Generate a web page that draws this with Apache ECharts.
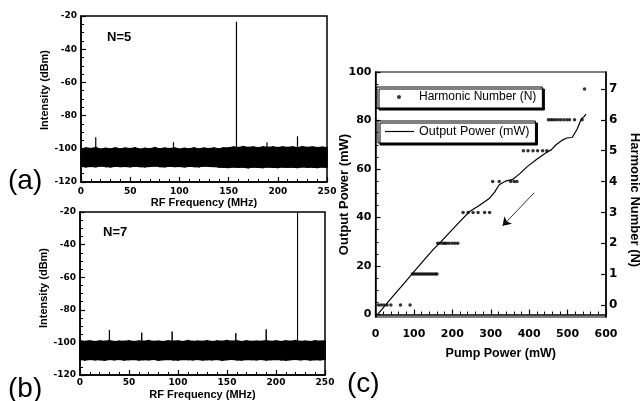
<!DOCTYPE html>
<html><head><meta charset="utf-8">
<script src="https://cdn.jsdelivr.net/npm/echarts@6/dist/echarts.min.js"></script>
<style>html,body{margin:0;padding:0;background:#fff}#c{width:642px;height:401px}</style>
</head><body><div id="c"></div>
<script>
// ---- Data ----
const freqGrid = [0,5,10,15,20,25,30,35,40,45,50,55,60,65,70,75,80,85,90,95,100,105,110,115,120,125,130,135,140,145,150,155,160,165,170,175,180,185,190,195,200,205,210,215,220,225,230,235,240,245,250];
const bandTopA = [-100.2,-99.6,-100.0,-99.4,-100.3,-99.8,-100.1,-99.5,-100.2,-99.7,
  -100.0,-99.5,-100.3,-99.8,-100.1,-99.4,-100.2,-99.7,-100.0,-99.6,
  -100.3,-99.8,-100.1,-99.5,-100.2,-99.7,-100.0,-99.6,-100.2,-99.5,
  -99.6,-99.0,-99.4,-98.8,-99.3,-99.0,-99.5,-98.9,-99.2,-99.0,
  -99.4,-98.9,-99.3,-99.0,-99.5,-98.8,-99.3,-99.0,-99.4,-99.1,-99.3];
const bandBottomA = [-110.4,-110.8,-110.5,-110.7,-110.3,-110.6,-110.8,-110.4,-110.6,-110.5,
  -110.7,-110.4,-110.6,-110.8,-110.5,-110.3,-110.6,-110.7,-110.4,-110.6,
  -110.5,-110.8,-110.4,-110.6,-110.7,-110.3,-110.5,-110.6,-110.9,-111.0,
  -111.2,-110.9,-111.1,-111.0,-111.3,-110.9,-111.1,-111.2,-110.9,-111.0,
  -111.2,-110.9,-111.1,-111.0,-111.2,-110.8,-111.1,-111.0,-111.2,-110.9,-111.0];
const bandTopB = [-99.0,-99.5,-99.1,-99.6,-99.2,-99.4,-99.0,-99.6,-99.3,-99.5,
  -99.1,-99.6,-99.2,-99.4,-99.0,-99.5,-99.3,-99.6,-99.1,-99.4,
  -99.2,-99.6,-99.0,-99.5,-99.3,-99.4,-99.1,-99.6,-99.2,-99.5,
  -99.0,-99.4,-99.2,-99.6,-99.1,-99.5,-99.3,-99.4,-99.0,-99.5,
  -99.2,-99.6,-99.1,-99.4,-99.0,-99.5,-99.3,-99.6,-99.1,-99.4,-99.2];
const bandBottomB = [-110.3,-110.7,-110.4,-110.6,-110.5,-110.8,-110.4,-110.6,-110.3,-110.7,
  -110.5,-110.4,-110.7,-110.5,-110.6,-110.3,-110.8,-110.5,-110.4,-110.6,
  -110.7,-110.4,-110.5,-110.6,-110.3,-110.7,-110.5,-110.6,-110.4,-110.8,
  -110.5,-110.3,-110.6,-110.7,-110.4,-110.5,-110.6,-110.3,-110.7,-110.5,
  -110.4,-110.6,-110.8,-110.5,-110.3,-110.6,-110.4,-110.7,-110.5,-110.6,-110.4];
const spikeFreqA = [15, 94, 158, 189, 220];
const spikePeakA = [-93, -96, -23.5, -96, -92.5];
const spikeFreqB = [30, 63, 94, 159, 190, 222];
const spikePeakB = [-92.4, -94, -93.4, -94.4, -92, -20];
const spikeBase = -105;

const pumpPower = [5, 27, 50, 75, 98, 130, 150, 170, 195, 220, 245, 270, 297, 310, 322, 338, 356, 375, 395, 420, 442, 458, 470, 485, 498, 512, 525, 536, 543, 548];
const outputPower = [0, 4.1, 8.4, 13, 17.3, 23.2, 26.8, 30, 34.2, 38.4, 42.5, 45, 48, 50.5, 53.5, 55, 55.6, 58, 61, 64, 66.5, 68, 70, 71.8, 72.8, 73, 76.5, 80.7, 81.6, 82.6];
const harmonicPump = [8,15,22,30,40,65,90,
  96,101,106,111,116,121,126,131,136,141,146,151,156,160,
  162,168,175,180,185,192,200,207,214,
  228,241,254,267,284,297,
  305,322,352,361,368,
  385,397,410,422,435,446,
  450,456,462,468,475,482,490,498,505,518,538,
  544];
const harmonicN = [0,0,0,0,0,0,0,
  1,1,1,1,1,1,1,1,1,1,1,1,1,1,
  2,2,2,2,2,2,2,2,2,
  3,3,3,3,3,3,
  4,4,4,4,4,
  5,5,5,5,5,5,
  6,6,6,6,6,6,6,6,6,6,6,
  7];
const arrowFrom = [413, 50.2];
const arrowTo = [331, 36.6];

const powerMajorTicks = [0, 20, 40, 60, 80, 100];
const powerMinorTicks = [5,10,15,25,30,35,45,50,55,65,70,75,85,90,95];
const harmonicTicks = [0, 1, 2, 3, 4, 5, 6, 7];

// ---- helpers ----
function zip(xs, ys) { return xs.map((x, i) => [x, ys[i]]); }
function spikeData(fs, ps) {
  const d = [];
  fs.forEach((f, i) => { d.push([f, spikeBase], [f, ps[i]], [f, spikeBase]); });
  return d;
}
function bandData(tops, bottoms) {
  return freqGrid.slice(0, -1).map((f, i) => [f, tops[i], bottoms[i], freqGrid[i + 1], tops[i + 1], bottoms[i + 1]]);
}
function bandRender(params, api) {
  const p1 = api.coord([api.value(0), api.value(1)]);
  const p2 = api.coord([api.value(3), api.value(4)]);
  const p3 = api.coord([api.value(3), api.value(5)]);
  const p4 = api.coord([api.value(0), api.value(2)]);
  return {type: 'polygon', shape: {points: [p1, p2, p3, p4]}, style: {fill: '#000', stroke: '#000', lineWidth: 1.6}};
}
const BLACK = '#000';
const tickFontSmall = {fontFamily: 'DejaVu Sans', fontWeight: 'bold', fontSize: 9, color: BLACK};
const tickFontBig = {fontFamily: 'DejaVu Sans', fontWeight: 'bold', fontSize: 11, color: BLACK};
const nameFont = (size, pad) => ({fontFamily: 'Liberation Sans', fontWeight: 'bold', fontSize: size, color: BLACK, padding: pad || 0});
const axisLine = {show: true, lineStyle: {color: BLACK, width: 1.5}};

function specX(grid, gap, margin) {
  return {gridIndex: grid, type: 'value', min: 0, max: 250, interval: 50,
    axisLine, axisTick: {inside: true, length: 5, lineStyle: {color: BLACK, width: 1.2}},
    minorTick: {show: true, splitNumber: 5, length: 3, lineStyle: {color: BLACK, width: 1}},
    axisLabel: Object.assign({margin}, tickFontSmall), splitLine: {show: false},
    name: 'RF Frequency (MHz)', nameLocation: 'middle', nameGap: gap, nameMoveOverlap: false, nameTextStyle: nameFont(11)};
}
function specY(grid, pad) {
  return {gridIndex: grid, type: 'value', min: -120, max: -20, interval: 20,
    axisLine, axisTick: {inside: true, length: 5, lineStyle: {color: BLACK, width: 1.2}},
    minorTick: {show: true, splitNumber: 4, length: 3, lineStyle: {color: BLACK, width: 1}},
    axisLabel: Object.assign({margin: 4}, tickFontSmall), splitLine: {show: false},
    name: 'Intensity (dBm)', nameLocation: 'middle', nameGap: 31, nameMoveOverlap: false, nameTextStyle: nameFont(11, [0, 0, 0, pad])};
}
function bandSeries(xi, tops, bottoms) {
  return {type: 'custom', xAxisIndex: xi, yAxisIndex: xi, silent: true, renderItem: bandRender,
    encode: {x: [0, 3], y: [1, 2, 4, 5]}, data: bandData(tops, bottoms)};
}

const chart = echarts.init(document.getElementById('c'), null, {renderer: 'canvas'});
chart.setOption({
  animation: false,
  backgroundColor: '#fff',
  grid: [
    {left: 81, top: 16, width: 246, height: 166, show: true, borderColor: BLACK, borderWidth: 1.5},
    {left: 80, top: 212, width: 245, height: 163, show: true, borderColor: BLACK, borderWidth: 1.5},
    {left: 375.5, top: 72, width: 234, height: 245, show: true, borderColor: BLACK, borderWidth: 1.2}
  ],
  xAxis: [
    specX(0, 15, 5),
    specX(1, 14, 3),
    {gridIndex: 2, type: 'value', min: 0, max: 600, interval: 100,
      axisLine, axisTick: {inside: true, length: 5, lineStyle: {color: BLACK, width: 1.2}},
      minorTick: {show: true, splitNumber: 5, length: 3, lineStyle: {color: BLACK, width: 1}},
      axisLabel: Object.assign({margin: 12}, tickFontBig), splitLine: {show: false},
      name: 'Pump Power (mW)', nameLocation: 'middle', nameGap: 30, nameMoveOverlap: false, nameTextStyle: nameFont(12.5, [0, 0, 0, 20])}
  ],
  yAxis: [
    specY(0, 18),
    specY(1, 11),
    {gridIndex: 2, type: 'value', min: -1, max: 100, position: 'left',
      axisLine, axisTick: {inside: true, length: 5, customValues: powerMajorTicks, lineStyle: {color: BLACK, width: 1.2}},
      axisLabel: Object.assign({margin: 4, customValues: powerMajorTicks}, tickFontBig), splitLine: {show: false},
      name: 'Output Power (mW)', nameLocation: 'middle', nameGap: 25, nameMoveOverlap: false, nameTextStyle: nameFont(13)},
    {gridIndex: 2, type: 'value', min: -0.39, max: 7.55, position: 'right',
      axisLine, axisTick: {inside: true, length: 5, customValues: harmonicTicks, lineStyle: {color: BLACK, width: 1.2}},
      axisLabel: Object.assign({margin: 3, customValues: harmonicTicks}, tickFontBig, {fontSize: 12}), splitLine: {show: false},
      name: 'Harmonic Number (N)', nameLocation: 'middle', nameRotate: -90, nameGap: 22, nameMoveOverlap: false, nameTextStyle: nameFont(13, [0, 0, 0, 11])},
    {gridIndex: 2, type: 'value', min: -1, max: 100, position: 'left',
      axisLine: {show: false}, axisTick: {inside: true, length: 3, customValues: powerMinorTicks, lineStyle: {color: BLACK, width: 1}},
      axisLabel: {show: false}, splitLine: {show: false}}
  ],
  legend: [
    {data: ['Harmonic Number (N)'], left: 377, top: 87, orient: 'horizontal', padding: [4, 6, 5, 20],
      itemWidth: 30, itemHeight: 4, backgroundColor: '#fff', borderColor: BLACK, borderWidth: 1,
      shadowColor: BLACK, shadowOffsetX: 2, shadowOffsetY: 2, shadowBlur: 0,
      textStyle: {fontFamily: 'Liberation Sans', fontSize: 12, color: BLACK}, selectedMode: false},
    {data: [{name: 'Output Power (mW)', icon: 'rect'}], left: 378, top: 121, orient: 'horizontal', padding: [4, 6, 5, 7],
      itemWidth: 29, itemHeight: 1.2, backgroundColor: '#fff', borderColor: BLACK, borderWidth: 1,
      shadowColor: BLACK, shadowOffsetX: 2, shadowOffsetY: 2, shadowBlur: 0,
      textStyle: {fontFamily: 'Liberation Sans', fontSize: 12.5, color: BLACK}, selectedMode: false}
  ],
  graphic: [
    {type: 'text', x: 107, y: 37, style: {text: 'N=5', font: 'bold 13px "Liberation Sans"', fill: BLACK, verticalAlign: 'middle'}},
    {type: 'text', x: 103, y: 232, style: {text: 'N=7', font: 'bold 13px "Liberation Sans"', fill: BLACK, verticalAlign: 'middle'}},
    {type: 'text', x: 8, y: 181, style: {text: '(a)', font: '28px "Liberation Sans"', fill: BLACK, verticalAlign: 'middle'}},
    {type: 'text', x: 8, y: 389, style: {text: '(b)', font: '28px "Liberation Sans"', fill: BLACK, verticalAlign: 'middle'}},
    {type: 'text', x: 347, y: 384, style: {text: '(c)', font: '28px "Liberation Sans"', fill: BLACK, verticalAlign: 'middle'}}
  ],
  series: [
    bandSeries(0, bandTopA, bandBottomA),
    {type: 'line', xAxisIndex: 0, yAxisIndex: 0, symbol: 'none', silent: true,
      lineStyle: {color: BLACK, width: 1.2}, data: spikeData(spikeFreqA, spikePeakA)},
    bandSeries(1, bandTopB, bandBottomB),
    {type: 'line', xAxisIndex: 1, yAxisIndex: 1, symbol: 'none', silent: true,
      lineStyle: {color: BLACK, width: 1}, data: spikeData(spikeFreqB, spikePeakB)},
    {name: 'Harmonic Number (N)', type: 'scatter', xAxisIndex: 2, yAxisIndex: 3, symbol: 'circle', symbolSize: 3.5,
      itemStyle: {color: BLACK}, data: zip(harmonicPump, harmonicN)},
    {name: 'Output Power (mW)', type: 'line', xAxisIndex: 2, yAxisIndex: 2, symbol: 'none',
      lineStyle: {color: BLACK, width: 1.2}, itemStyle: {color: BLACK}, data: zip(pumpPower, outputPower),
      markLine: {silent: true, symbol: ['none', 'arrow'], symbolSize: 8, label: {show: false},
        lineStyle: {color: BLACK, width: 0.8, type: 'solid'},
        data: [[{coord: arrowFrom}, {coord: arrowTo}]]}}
  ]
});
</script></body></html>
